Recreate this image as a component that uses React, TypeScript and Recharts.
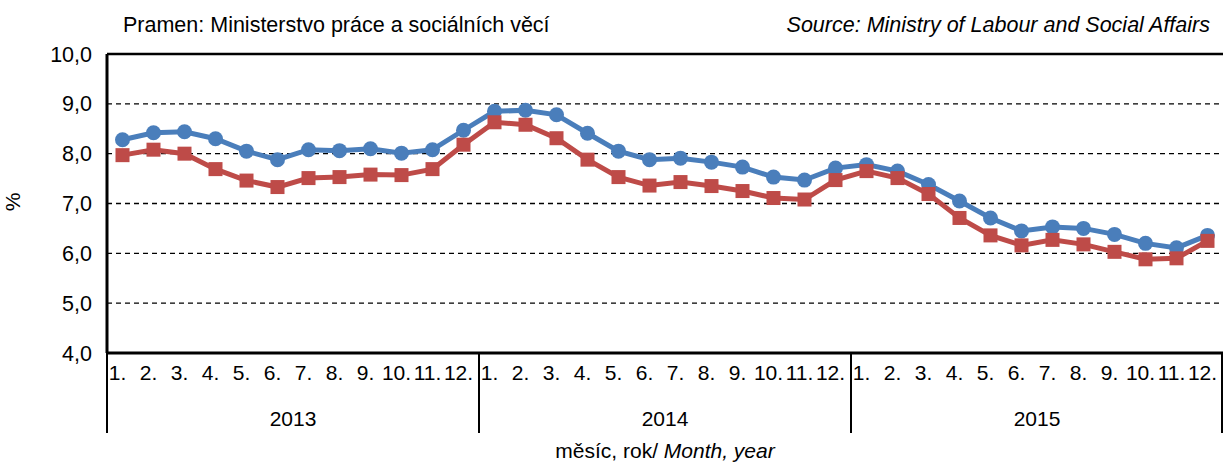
import React from 'react';
import { LineChart, Line, XAxis, YAxis, CartesianGrid, ReferenceLine } from 'recharts';

// months 1..12 for 2013-2015
const years = ['2013', '2014', '2015'];
const monthLabels = ['1.', '2.', '3.', '4.', '5.', '6.', '7.', '8.', '9.', '10.', '11.', '12.'];

const blueSeries = [
  8.28, 8.42, 8.44, 8.3, 8.05, 7.88, 8.08, 8.06, 8.1, 8.01, 8.08, 8.47,
  8.85, 8.87, 8.78, 8.41, 8.05, 7.88, 7.91, 7.83, 7.73, 7.53, 7.47, 7.71,
  7.78, 7.65, 7.38, 7.05, 6.71, 6.45, 6.53, 6.5, 6.38, 6.2, 6.11, 6.36,
];
const redSeries = [
  7.97, 8.08, 8.0, 7.69, 7.46, 7.33, 7.51, 7.53, 7.58, 7.57, 7.69, 8.18,
  8.63, 8.58, 8.31, 7.88, 7.53, 7.36, 7.43, 7.35, 7.25, 7.11, 7.08, 7.47,
  7.65, 7.51, 7.19, 6.71, 6.36, 6.16, 6.27, 6.18, 6.03, 5.88, 5.9, 6.25,
];
const yTicks = [4, 5, 6, 7, 8, 9, 10];

const data = blueSeries.map((v, i) => ({
  key: `${years[Math.floor(i / 12)]}-${i % 12}`,
  month: monthLabels[i % 12],
  year: years[Math.floor(i / 12)],
  blue: v,
  red: redSeries[i],
}));

const FONT = 'Arial, "Liberation Sans", sans-serif';
const FS = 21;
const W = 1223;
const H = 464;
const PLOT_LEFT = 107;
const PLOT_TOP = 54;
const PLOT_BOTTOM = 353;
const STEP = (W - PLOT_LEFT) / data.length;
const BLUE = '#4A7EBB';
const RED = '#BE4B48';

const MonthTick = (props: any) => {
  const { x, y, index } = props;
  const d = data[index];
  const half = STEP / 2;
  return (
    <g>
      <text x={x - 5} y={y + 27} textAnchor="middle" fontSize={FS} fontFamily={FONT} fill="#000">
        {d.month}
      </text>
      {index % 12 === 0 && (
        <line x1={x - half} x2={x - half} y1={y} y2={y + 80} stroke="#000" strokeWidth={2} />
      )}
      {index === data.length - 1 && (
        <line x1={x + half - 1} x2={x + half - 1} y1={y} y2={y + 80} stroke="#000" strokeWidth={2} />
      )}
      {index % 12 === 6 && (
        <text x={x - half} y={y + 73} textAnchor="middle" fontSize={FS} fontFamily={FONT} fill="#000">
          {d.year}
        </text>
      )}
    </g>
  );
};

const SquareDot = (props: any) => {
  const { cx, cy, index } = props;
  return <rect key={`sq-${index}`} x={cx - 7} y={cy - 7} width={14} height={14} fill={RED} />;
};

const CircleDot = (props: any) => {
  const { cx, cy, index } = props;
  return <circle key={`ci-${index}`} cx={cx} cy={cy} r={7.5} fill={BLUE} />;
};

const App: React.FC = () => {
  return (
    <div style={{ position: 'absolute', left: 0, top: 0, width: W, height: H, background: '#fff', fontFamily: FONT }}>
      <div style={{ position: 'absolute', left: 123, top: 13, fontSize: 21.5, lineHeight: 'normal', color: '#000', whiteSpace: 'nowrap' }}>
        Pramen: Ministerstvo práce a sociálních věcí
      </div>
      <div style={{ position: 'absolute', right: 13, top: 13, fontSize: 21.5, lineHeight: 'normal', fontStyle: 'italic', color: '#000', whiteSpace: 'nowrap' }}>
        Source: Ministry of Labour and Social Affairs
      </div>
      <div
        style={{
          position: 'absolute',
          left: 4,
          top: 190,
          fontSize: FS,
          lineHeight: 'normal',
          transform: 'rotate(-90deg)',
          transformOrigin: 'center',
        }}
      >
        %
      </div>
      <div style={{ position: 'absolute', left: PLOT_LEFT, width: W - PLOT_LEFT, top: 439, textAlign: 'center', fontSize: FS, lineHeight: 'normal' }}>
        měsíc, rok/ <i>Month, year</i>
      </div>
      <LineChart width={W} height={H} data={data} margin={{ top: PLOT_TOP, right: 0, bottom: 0, left: 0 }}>
        <CartesianGrid vertical={false} stroke="#000" strokeWidth={1.3} strokeDasharray="5 4" />
        <XAxis
          dataKey="key"
          interval={0}
          height={H - PLOT_BOTTOM}
          padding={{ left: STEP / 2, right: STEP / 2 }}
          tick={(p: any) => <MonthTick {...p} />}
          tickLine={false}
          tickSize={0}
          tickMargin={0}
          axisLine={{ stroke: '#000', strokeWidth: 3 }}
        />
        <YAxis
          domain={[4, 10]}
          ticks={yTicks}
          width={PLOT_LEFT}
          tickLine={false}
          tickSize={0}
          tickMargin={15}
          axisLine={{ stroke: '#000', strokeWidth: 3 }}
          tickFormatter={(v: number) => v.toFixed(1).replace('.', ',')}
          tick={{ fontSize: 21.5, fontFamily: FONT, fill: '#000' }}
        />
        <ReferenceLine y={10} stroke="#000" strokeWidth={2.5} />
        <Line
          dataKey="blue"
          stroke={BLUE}
          strokeWidth={5}
          dot={CircleDot}
          activeDot={false}
          isAnimationActive={false}
        />
        <Line
          dataKey="red"
          stroke={RED}
          strokeWidth={5}
          dot={SquareDot}
          activeDot={false}
          isAnimationActive={false}
        />
      </LineChart>
    </div>
  );
};

export default App;
